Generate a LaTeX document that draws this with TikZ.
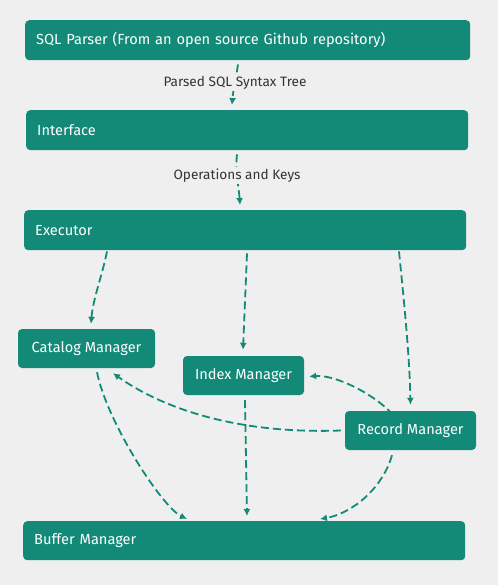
\documentclass[tikz,border=0pt]{standalone}
\usepackage{fontspec}
\setmainfont{Fira Sans}
\usepackage{xcolor}
\usetikzlibrary{arrows.meta}

\definecolor{boxteal}{HTML}{138A78}
\definecolor{pagebg}{HTML}{EFEFEF}
\definecolor{labelgray}{HTML}{333333}

\begin{document}
\begin{tikzpicture}[x=1pt,y=-1pt]
\tikzset{layer/.style={fill=boxteal,rounded corners=4pt,text=white,font=\fontsize{14.6}{17}\selectfont,
  anchor=north west,minimum height=40pt,text width=420pt,inner xsep=11pt,align=left}}
\tikzset{module/.style={fill=boxteal,rounded corners=4pt,text=white,font=\fontsize{14.6}{17}\selectfont,
  minimum height=39pt,inner sep=0pt}}
\tikzset{flow/.style={draw=boxteal,line width=1.8pt,dash pattern=on 8pt off 4pt,-{Latex[length=7pt,width=7pt]}}}
\tikzset{edgelabel/.style={fill=pagebg,text=labelgray,font=\fontsize{13.6}{16}\selectfont,inner sep=2pt}}

\fill[pagebg] (0,0) rectangle (498,585);

\node[layer,text width=423pt] (parser) at (25,20) {SQL Parser (From an open source Github repository)};
\node[layer] (iface) at (26,110) {Interface};
\node[layer] (exec) at (24,210) {Executor};
\node[layer,minimum height=39pt] (buffer) at (23,521) {Buffer Manager};

\node[module,minimum width=137pt] (catalog) at (86.5,348.5) {Catalog Manager};
\node[module,minimum width=121pt] (index) at (243.5,375.5) {Index Manager};
\node[module,minimum width=131pt] (record) at (410.5,430.5) {Record Manager};

\draw[flow] ([xshift=213pt,yshift=-4pt]parser.south west) .. controls +(-2,14) and +(1,-14) .. ([xshift=206pt,yshift=5pt]iface.north west)
  node[edgelabel,pos=0.45] {Parsed SQL Syntax Tree};
\draw[flow] ([xshift=211pt,yshift=-4pt]iface.south west) .. controls +(-2,16) and +(-1,-16) .. ([xshift=216pt,yshift=5pt]exec.north west)
  node[edgelabel,pos=0.42] {Operations and Keys};

\draw[flow] ([xshift=83pt,yshift=-1pt]exec.south west) .. controls +(-5,25) and +(2,-25) .. ([xshift=4.5pt,yshift=5pt]catalog.north);
\draw[flow] ([xshift=223pt,yshift=-3pt]exec.south west) -- ([xshift=-0.5pt,yshift=6pt]index.north);
\draw[flow] ([xshift=375pt,yshift=-1pt]exec.south west) .. controls +(5,50) and +(-1,-50) .. ([yshift=6pt]record.north);

\draw[flow] ([xshift=10.5pt,yshift=-4pt]catalog.south) .. controls +(10,50) and +(-25,-12) .. ([xshift=164pt,yshift=2pt]buffer.north west);
\draw[flow] ([xshift=1.5pt,yshift=-5pt]index.south) -- ([xshift=224pt,yshift=5pt]buffer.north west);
\draw[flow] ([xshift=-4pt]record.west) .. controls +(-110,4) and +(45,32) .. ([xshift=26.5pt,yshift=-5pt]catalog.south);
\draw[flow] ([xshift=-17.5pt,yshift=-4pt]record.north) .. controls +(-20,-22) and +(25,-2) .. ([xshift=5pt,yshift=-1pt]index.east);
\draw[flow] ([xshift=-18.5pt,yshift=-5pt]record.south) .. controls +(-10,35) and +(30,-5) .. ([xshift=297pt,yshift=2pt]buffer.north west);
\end{tikzpicture}
\end{document}
